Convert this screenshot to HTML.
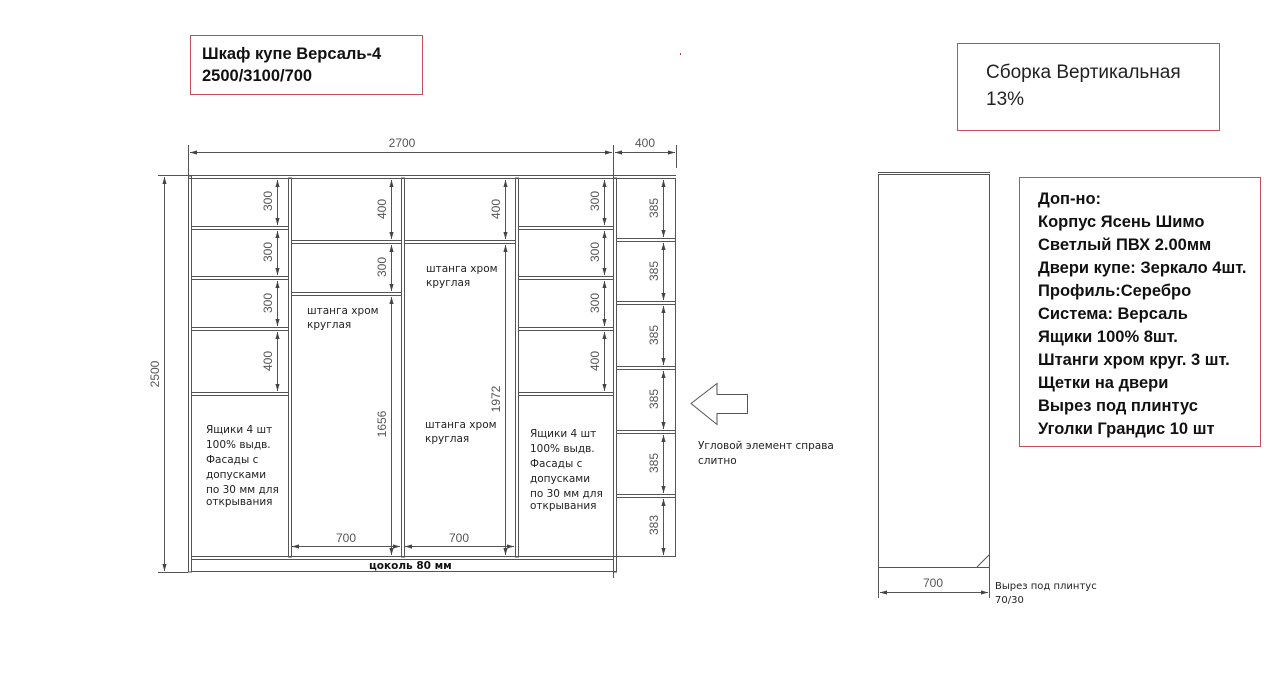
<!DOCTYPE html>
<html><head><meta charset="utf-8"><style>
html,body{margin:0;padding:0;background:#fff;}
svg{display:block;}
.t{font-family:"Liberation Sans","DejaVu Sans",sans-serif;fill:#555;font-size:12px;}
.n{font-family:"DejaVu Sans","Liberation Sans",sans-serif;fill:#222;font-size:10.5px;}
.b{font-family:"Liberation Sans","DejaVu Sans",sans-serif;fill:#111;font-weight:bold;}
</style></head><body>
<svg width="1280" height="676" viewBox="0 0 1280 676" xmlns="http://www.w3.org/2000/svg">
<defs>
<marker id="a" viewBox="0 0 10 10" refX="10" refY="5" markerWidth="7" markerHeight="7" orient="auto-start-reverse"><path d="M0,2 L10,5 L0,8 z" fill="#444"/></marker>
</defs>
<rect x="190.5" y="35.5" width="232" height="59" fill="none" stroke="#c0505a"/>
<text class="b" x="202" y="59" font-size="16.5">Шкаф купе Версаль-4</text>
<text class="b" x="202" y="81" font-size="16.5">2500/3100/700</text>
<rect x="957.5" y="43.5" width="262" height="87" fill="none" stroke="#c0505a"/>
<text x="986" y="78" font-family="Liberation Sans,DejaVu Sans,sans-serif" font-size="19" fill="#222">Сборка Вертикальная</text>
<text x="986" y="105" font-family="Liberation Sans,DejaVu Sans,sans-serif" font-size="19" fill="#222">13%</text>
<rect x="680" y="53" width="1" height="2" fill="#c33"/>
<rect x="1019.5" y="177.5" width="241" height="269" fill="none" stroke="#c0505a"/>
<g class="b" font-size="16.5">
<text x="1038" y="204">Доп-но:</text>
<text x="1038" y="227">Корпус Ясень Шимо</text>
<text x="1038" y="250">Светлый ПВХ 2.00мм</text>
<text x="1038" y="273">Двери купе: Зеркало 4шт.</text>
<text x="1038" y="296">Профиль:Серебро</text>
<text x="1038" y="319">Система: Версаль</text>
<text x="1038" y="342">Ящики 100% 8шт.</text>
<text x="1038" y="365">Штанги хром круг. 3 шт.</text>
<text x="1038" y="388">Щетки на двери</text>
<text x="1038" y="411">Вырез под плинтус</text>
<text x="1038" y="434">Уголки Грандис 10 шт</text>
</g>
<g stroke="#555" stroke-width="1" fill="none">
<line x1="188.5" y1="145" x2="188.5" y2="176"/>
<line x1="613.5" y1="145" x2="613.5" y2="578"/>
<line x1="676.5" y1="145" x2="676.5" y2="168"/>
<line x1="190" y1="152.5" x2="612" y2="152.5" marker-start="url(#a)" marker-end="url(#a)"/>
<line x1="615" y1="152.5" x2="675" y2="152.5" marker-start="url(#a)" marker-end="url(#a)"/>
<line x1="158" y1="175.5" x2="188" y2="175.5"/>
<line x1="158" y1="572.5" x2="188" y2="572.5"/>
<line x1="164.5" y1="177" x2="164.5" y2="571" marker-start="url(#a)" marker-end="url(#a)"/>
<line x1="188" y1="175.5" x2="676" y2="175.5"/>
<line x1="188" y1="178.5" x2="676" y2="178.5"/>
<rect x="188.5" y="176" width="3" height="396"/>
<rect x="288.5" y="178" width="3" height="379"/>
<rect x="401.5" y="178" width="3" height="379"/>
<rect x="515.5" y="178" width="3" height="379"/>
<rect x="613.5" y="178" width="3" height="394"/>
<line x1="675.5" y1="178" x2="675.5" y2="557"/>
<line x1="191" y1="556.5" x2="676" y2="556.5"/>
<line x1="191" y1="559.5" x2="613" y2="559.5"/>
<line x1="191" y1="571.5" x2="617" y2="571.5"/>
<path d="M191 226.5H288M191 229.5H288M191 276.5H288M191 279.5H288M191 327.5H288M191 330.5H288M191 392.5H288M191 395.5H288"/>
<path d="M518 226.5H613M518 229.5H613M518 276.5H613M518 279.5H613M518 327.5H613M518 330.5H613M518 392.5H613M518 395.5H613"/>
<path d="M291 240.5H401M291 243.5H401M291 292.5H401M291 295.5H401"/>
<path d="M404 240.5H515M404 243.5H515"/>
<path d="M617 238.5H675M617 241.5H675M617 301.5H675M617 304.5H675M617 366.5H675M617 369.5H675M617 430.5H675M617 433.5H675M617 494.5H675M617 497.5H675"/>
<g marker-start="url(#a)" marker-end="url(#a)">
<line x1="277.5" y1="180" x2="277.5" y2="225"/><line x1="277.5" y1="231" x2="277.5" y2="275"/>
<line x1="277.5" y1="281" x2="277.5" y2="326"/><line x1="277.5" y1="332" x2="277.5" y2="391"/>
<line x1="391.5" y1="180" x2="391.5" y2="239"/><line x1="391.5" y1="245" x2="391.5" y2="291"/>
<line x1="391.5" y1="297" x2="391.5" y2="555"/>
<line x1="505.5" y1="180" x2="505.5" y2="239"/><line x1="505.5" y1="245" x2="505.5" y2="555"/>
<line x1="604.5" y1="180" x2="604.5" y2="225"/><line x1="604.5" y1="231" x2="604.5" y2="275"/>
<line x1="604.5" y1="281" x2="604.5" y2="326"/><line x1="604.5" y1="332" x2="604.5" y2="391"/>
<line x1="663.5" y1="180" x2="663.5" y2="237"/><line x1="663.5" y1="243" x2="663.5" y2="300"/>
<line x1="663.5" y1="306" x2="663.5" y2="365"/><line x1="663.5" y1="371" x2="663.5" y2="429"/>
<line x1="663.5" y1="435" x2="663.5" y2="493"/><line x1="663.5" y1="499" x2="663.5" y2="555"/>
<line x1="292" y1="546.5" x2="400" y2="546.5"/><line x1="405" y1="546.5" x2="514" y2="546.5"/>
</g>
<path d="M691 403.5L717 383.5V394.5H747.5V413.5H717V424.5Z"/>
<line x1="878" y1="172.5" x2="990" y2="172.5"/>
<rect x="878.5" y="174.5" width="111" height="393"/>
<line x1="977" y1="567" x2="989" y2="555"/>
<line x1="878.5" y1="567" x2="878.5" y2="598"/>
<line x1="989.5" y1="567" x2="989.5" y2="598"/>
<line x1="880" y1="592.5" x2="988" y2="592.5" marker-start="url(#a)" marker-end="url(#a)"/>
</g>
<g class="t">
<text transform="translate(272,201) rotate(-90)" text-anchor="middle">300</text>
<text transform="translate(272,252) rotate(-90)" text-anchor="middle">300</text>
<text transform="translate(272,303) rotate(-90)" text-anchor="middle">300</text>
<text transform="translate(272,361) rotate(-90)" text-anchor="middle">400</text>
<text transform="translate(386,209) rotate(-90)" text-anchor="middle">400</text>
<text transform="translate(386,267) rotate(-90)" text-anchor="middle">300</text>
<text transform="translate(386,424) rotate(-90)" text-anchor="middle">1656</text>
<text transform="translate(500,209) rotate(-90)" text-anchor="middle">400</text>
<text transform="translate(500,399) rotate(-90)" text-anchor="middle">1972</text>
<text transform="translate(599,201) rotate(-90)" text-anchor="middle">300</text>
<text transform="translate(599,252) rotate(-90)" text-anchor="middle">300</text>
<text transform="translate(599,303) rotate(-90)" text-anchor="middle">300</text>
<text transform="translate(599,361) rotate(-90)" text-anchor="middle">400</text>
<text transform="translate(658,208) rotate(-90)" text-anchor="middle">385</text>
<text transform="translate(658,271) rotate(-90)" text-anchor="middle">385</text>
<text transform="translate(658,335) rotate(-90)" text-anchor="middle">385</text>
<text transform="translate(658,399) rotate(-90)" text-anchor="middle">385</text>
<text transform="translate(658,463) rotate(-90)" text-anchor="middle">385</text>
<text transform="translate(658,525) rotate(-90)" text-anchor="middle">383</text>
<text transform="translate(159,374) rotate(-90)" text-anchor="middle">2500</text>
<text x="402" y="147" text-anchor="middle">2700</text>
<text x="645" y="147" text-anchor="middle">400</text>
<text x="346" y="542" text-anchor="middle">700</text>
<text x="459" y="542" text-anchor="middle">700</text>
<text x="933" y="587" text-anchor="middle">700</text>
</g>
<g class="n">
<text x="307" y="314">штанга хром</text><text x="307" y="328">круглая</text>
<text x="426" y="272">штанга хром</text><text x="426" y="286">круглая</text>
<text x="425" y="428">штанга хром</text><text x="425" y="442">круглая</text>
<text x="206" y="433">Ящики 4 шт</text><text x="206" y="448">100% выдв.</text>
<text x="206" y="463">Фасады с</text><text x="206" y="478">допусками</text>
<text x="206" y="493">по 30 мм для</text><text x="206" y="505">открывания</text>
<text x="530" y="437">Ящики 4 шт</text><text x="530" y="452">100% выдв.</text>
<text x="530" y="467">Фасады с</text><text x="530" y="482">допусками</text>
<text x="530" y="497">по 30 мм для</text><text x="530" y="509">открывания</text>
<text x="698" y="449">Угловой элемент справа</text><text x="698" y="464">слитно</text>
<text x="995" y="589" font-size="10">Вырез под плинтус</text><text x="995" y="603" font-size="10">70/30</text>
<text x="369" y="569" font-weight="bold" fill="#111">цоколь 80 мм</text>
</g>
</svg>
</body></html>
